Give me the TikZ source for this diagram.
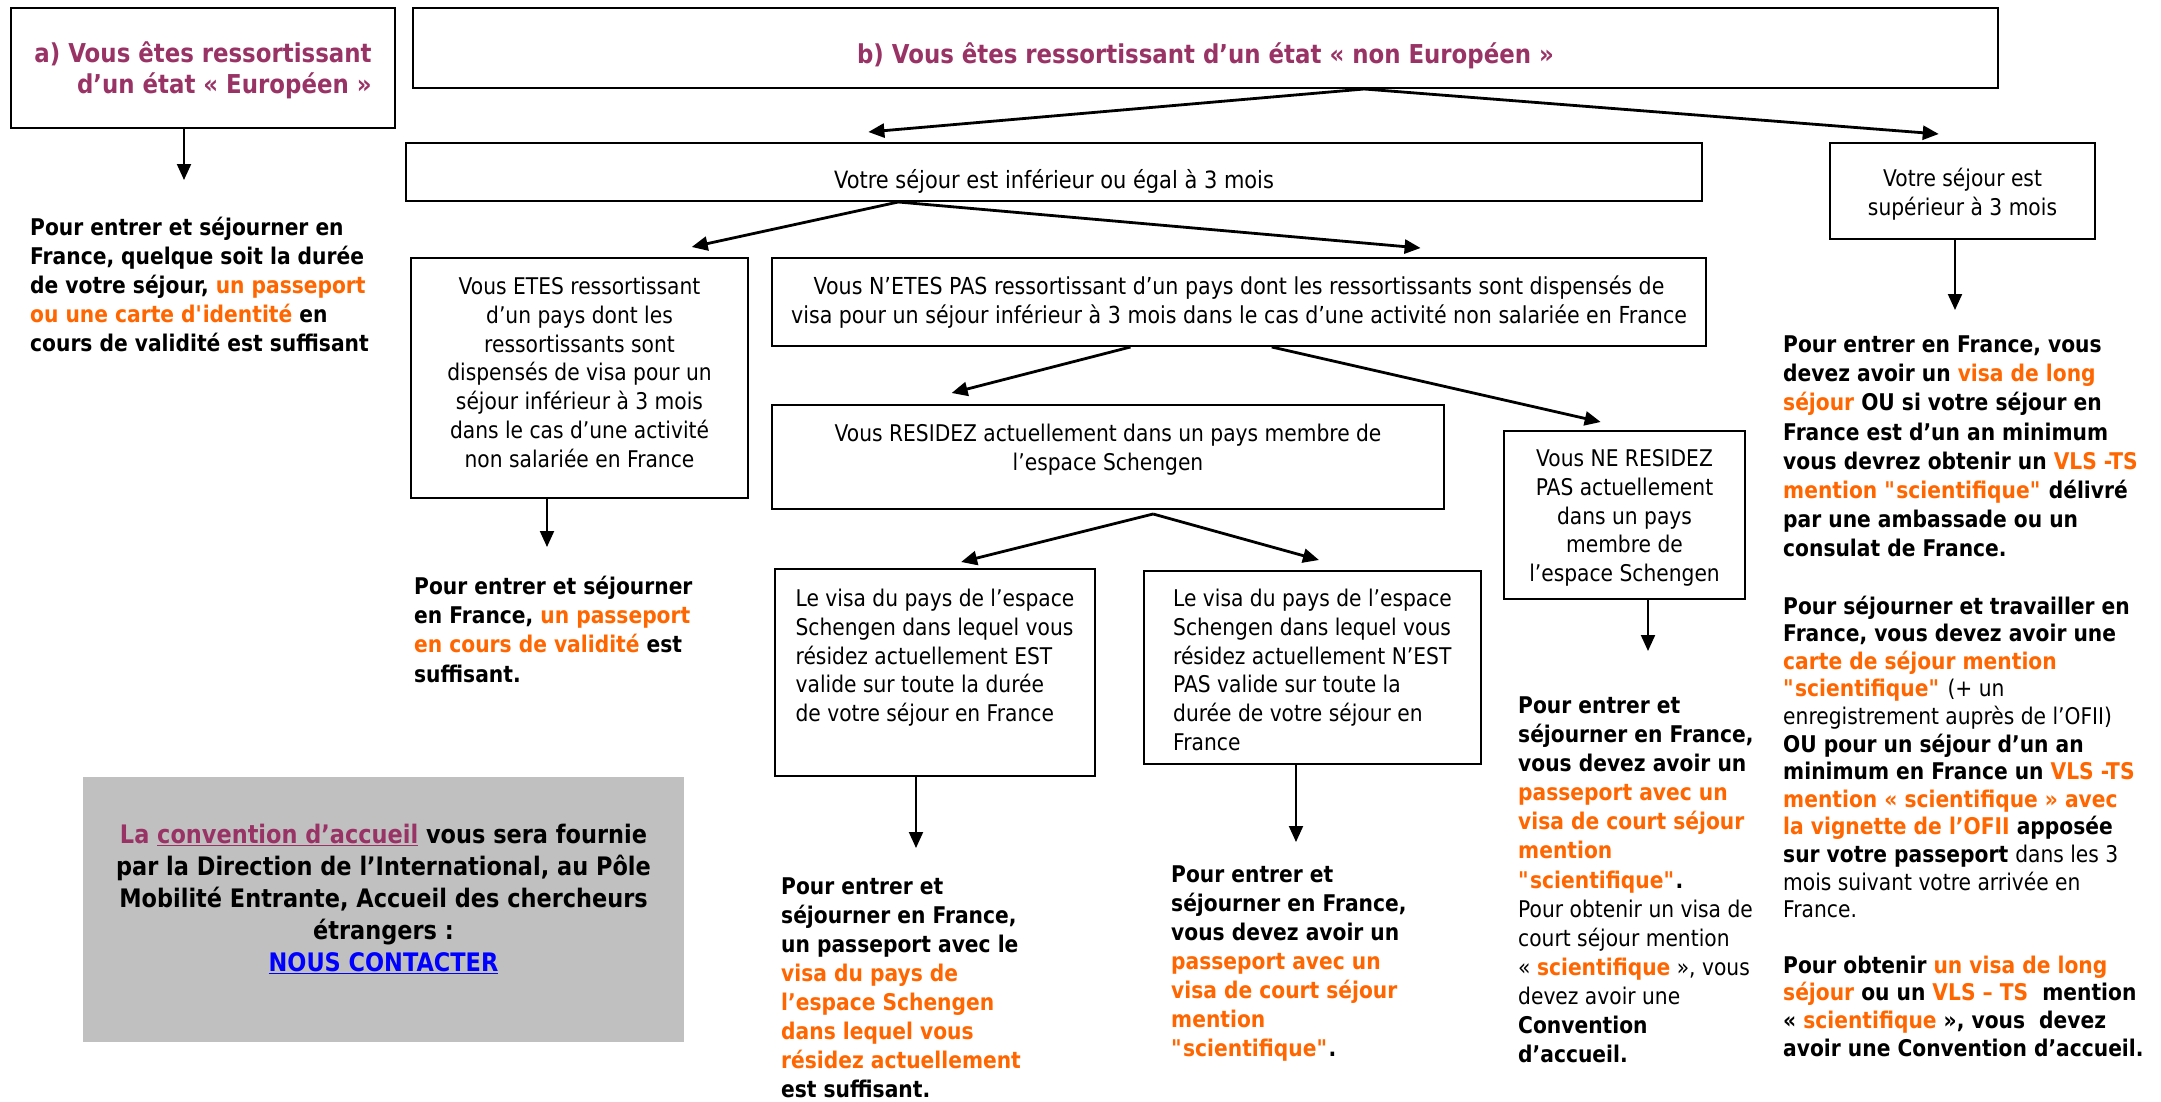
\documentclass[tikz,border=0pt]{standalone}
\usepackage{fontspec}
\setmainfont{DejaVu Sans}[FakeStretch=0.88]
\usepackage{xcolor}
\usepackage{tikz}
\usetikzlibrary{arrows.meta,calc}

\definecolor{vpurple}{HTML}{993366}
\definecolor{vorange}{HTML}{FF6600}
\definecolor{vblue}{HTML}{0000FF}
\definecolor{vgray}{HTML}{C0C0C0}
\newcommand{\orng}[1]{\textcolor{vorange}{#1}}
\newcommand{\mdtxt}[1]{{\mdseries #1}}
\newcommand{\sci}{\textquotedbl scientifique\textquotedbl}

\tikzset{
  box/.style={draw, line width=2pt, inner sep=0pt, anchor=north west, align=center,
    font=\fontsize{23}{28.8}\selectfont},
  title/.style={box, text=vpurple, font=\bfseries\fontsize{26}{31}\selectfont},
  note/.style={anchor=north west, inner sep=0pt, align=left,
    font=\bfseries\fontsize{23}{29}\selectfont},
  fork/.style={line width=2.8pt, -{Triangle[length=16pt,width=14pt]}},
  vline/.style={line width=2pt, -{Triangle[length=16pt,width=14pt]}}
}

\begin{document}
\begin{tikzpicture}[x=1pt,y=-1pt]
  \useasboundingbox (0,0) rectangle (2161,1101);

  % title boxes
  \node (eur) [title, align=right, minimum width=384pt, text height=85pt, text depth=35pt] at (10,7)
    {a) Vous êtes ressortissant\\d’un état « Européen »};
  \node (noneur) [title, minimum width=1585pt, text height=55pt, text depth=25pt] at (412,7)
    {b) Vous êtes ressortissant d’un état « non Européen »};

  % length of stay
  \node (inf) [box, minimum width=1296pt, text height=45pt, text depth=13pt,
    font=\fontsize{23.8}{28.8}\selectfont] at (405,142)
    {Votre séjour est inférieur ou égal à 3 mois};
  \node (sup) [box, minimum width=265pt, text height=72.3pt, text depth=23.7pt] at (1829,142)
    {Votre séjour est\\supérieur à 3 mois};

  \node (etes) [box, minimum width=337pt, text height=209.3pt, text depth=30.7pt] at (410,257)
    {Vous ETES ressortissant\\d’un pays dont les\\ressortissants sont\\dispensés de visa pour un\\séjour inférieur à 3 mois\\dans le cas d’une activité\\non salariée en France};
  \node (netes) [box, minimum width=934pt, text height=65.3pt, text depth=22.7pt,
    font=\fontsize{23.4}{28.8}\selectfont] at (771,257)
    {Vous N’ETES PAS ressortissant d’un pays dont les ressortissants sont dispensés de\\visa pour un séjour inférieur à 3 mois dans le cas d’une activité non salariée en France};

  \node (resid) [box, minimum width=672pt, text height=65.3pt, text depth=38.7pt] at (771,404)
    {Vous RESIDEZ actuellement dans un pays membre de\\l’espace Schengen};
  \node (nresid) [box, minimum width=241pt, text height=150.7pt, text depth=17.3pt] at (1503,430)
    {Vous NE RESIDEZ\\PAS actuellement\\dans un pays\\membre de\\l’espace Schengen};

  \node (est) [box, align=left, minimum width=320pt, text height=152.7pt, text depth=54.3pt] at (774,568)
    {Le visa du pays de l’espace\\Schengen dans lequel vous\\résidez actuellement EST\\valide sur toute la durée\\de votre séjour en France};
  \node (nest) [box, align=left, minimum width=337pt, text height=179.5pt, text depth=13.5pt] at (1143,570)
    {Le visa du pays de l’espace\\Schengen dans lequel vous\\résidez actuellement N’EST\\PAS valide sur toute la\\durée de votre séjour en\\France};

  % contact box
  \node (contact) [box, draw=none, fill=vgray, minimum width=601pt, text height=194pt, text depth=71pt,
    font=\bfseries\fontsize{25.5}{32}\selectfont] at (82,776)
    {\textcolor{vpurple}{La \underline{convention d’accueil}} vous sera fournie\\par la Direction de l’International, au Pôle\\Mobilité Entrante, Accueil des chercheurs\\étrangers :\\\textcolor{vblue}{\underline{NOUS CONTACTER}}};

  % answers
  \node (ta) [note] at (30,216.5)
    {Pour entrer et séjourner en\\France, quelque soit la durée\\de votre séjour, \orng{un passeport}\\\orng{ou une carte d\textquotesingle identité} en\\cours de validité est suffisant};
  \node (tetes) [note, font=\bfseries\fontsize{23}{29.3}\selectfont] at (414,575.5)
    {Pour entrer et séjourner\\en France, \orng{un passeport}\\\orng{en cours de validité} est\\suffisant.};
  \node (test) [note] at (781,877.5)
    {Pour entrer et\\séjourner en France,\\un passeport avec le\\\orng{visa du pays de}\\\orng{l’espace Schengen}\\\orng{dans lequel vous}\\\orng{résidez actuellement}\\est suffisant.};
  \node (tnest) [note] at (1171,865.5)
    {Pour entrer et\\séjourner en France,\\vous devez avoir un\\\orng{passeport avec un}\\\orng{visa de court séjour}\\\orng{mention}\\\orng{\sci}.};
  \node (tnresid) [note, font=\bfseries\fontsize{23}{29.1}\selectfont] at (1518,696.5)
    {Pour entrer et\\séjourner en France,\\vous devez avoir un\\\orng{passeport avec un}\\\orng{visa de court séjour}\\\orng{mention}\\\orng{\sci}.\\\mdtxt{Pour obtenir un visa de}\\\mdtxt{court séjour mention}\\\mdtxt{« }\orng{scientifique}\mdtxt{ », vous}\\\mdtxt{devez avoir une}\\Convention\\d’accueil.};
  \node (tsup) [note, font=\bfseries\fontsize{23}{29.2}\selectfont] at (1783,335.5)
    {Pour entrer en France, vous\\devez avoir un \orng{visa de long}\\\orng{séjour} OU si votre séjour en\\France est d’un an minimum\\vous devrez obtenir un \orng{VLS -TS}\\\orng{mention \sci} délivré\\par une ambassade ou un\\consulat de France.};
  \node (tsup2) [note, font=\bfseries\fontsize{23}{27.6}\selectfont] at (1783,595.5)
    {Pour séjourner et travailler en\\France, vous devez avoir une\\\orng{carte de séjour mention}\\\orng{\sci} \mdtxt{(+ un}\\\mdtxt{enregistrement auprès de l’OFII)}\\OU pour un séjour d’un an\\minimum en France un \orng{VLS -TS}\\\orng{mention « scientifique » avec}\\\orng{la vignette de l’OFII} apposée\\sur votre passeport \mdtxt{dans les 3}\\\mdtxt{mois suivant votre arrivée en}\\\mdtxt{France.}};
  \node (tsup3) [note, font=\bfseries\fontsize{23}{27.7}\selectfont] at (1783,955.5)
    {Pour obtenir \orng{un visa de long}\\\orng{séjour} ou un \orng{VLS – TS}~ mention\\« \orng{scientifique} », vous~ devez\\avoir une Convention d’accueil.};

  % forks
  \coordinate (b-fork) at ($(noneur.south west)!.6!(noneur.south east)$);
  \coordinate (inf-in) at ($(inf.north west)!.357!(inf.north east)+(0,-10)$);
  \coordinate (sup-in) at ($(sup.north west)!.411!(sup.north east)+(0,-8)$);
  \draw[fork] (b-fork) -- (inf-in);
  \draw[fork] (b-fork) -- (sup-in);

  \coordinate (inf-fork) at ($(inf.south west)!.38!(inf.south east)$);
  \coordinate (etes-in) at ($(etes.north west)!.831!(etes.north east)+(0,-10)$);
  \coordinate (netes-in) at ($(netes.north west)!.694!(netes.north east)+(0,-9)$);
  \draw[fork] (inf-fork) -- (etes-in);
  \draw[fork] (inf-fork) -- (netes-in);

  \coordinate (resid-in) at ($(resid.north west)!.268!(resid.north east)+(0,-11)$);
  \coordinate (nresid-in) at ($(nresid.north west)!.402!(nresid.north east)+(0,-8)$);
  \draw[fork] ($(netes.south west)!.384!(netes.south east)$) -- (resid-in);
  \draw[fork] ($(netes.south west)!.535!(netes.south east)$) -- (nresid-in);

  \coordinate (resid-fork) at ($(resid.south west)!.567!(resid.south east)+(0,4)$);
  \coordinate (est-in) at ($(est.north west)!.581!(est.north east)+(0,-6)$);
  \coordinate (nest-in) at ($(nest.north west)!.519!(nest.north east)+(0,-10)$);
  \draw[fork] (resid-fork) -- (est-in);
  \draw[fork] (resid-fork) -- (nest-in);

  % down arrows to the answers
  \coordinate (eur-out) at (184,180);
  \coordinate (sup-out) at (1955,310);
  \coordinate (etes-out) at (547,547);
  \coordinate (est-out) at (916,848);
  \coordinate (nest-out) at (1296,842);
  \coordinate (nresid-out) at (1648,651);
  \draw[vline] (eur.south -| eur-out) -- (eur-out);
  \draw[vline] (sup.south -| sup-out) -- (sup-out);
  \draw[vline] (etes.south -| etes-out) -- (etes-out);
  \draw[vline] (est.south -| est-out) -- (est-out);
  \draw[vline] (nest.south -| nest-out) -- (nest-out);
  \draw[vline] (nresid.south -| nresid-out) -- (nresid-out);
\end{tikzpicture}
\end{document}
